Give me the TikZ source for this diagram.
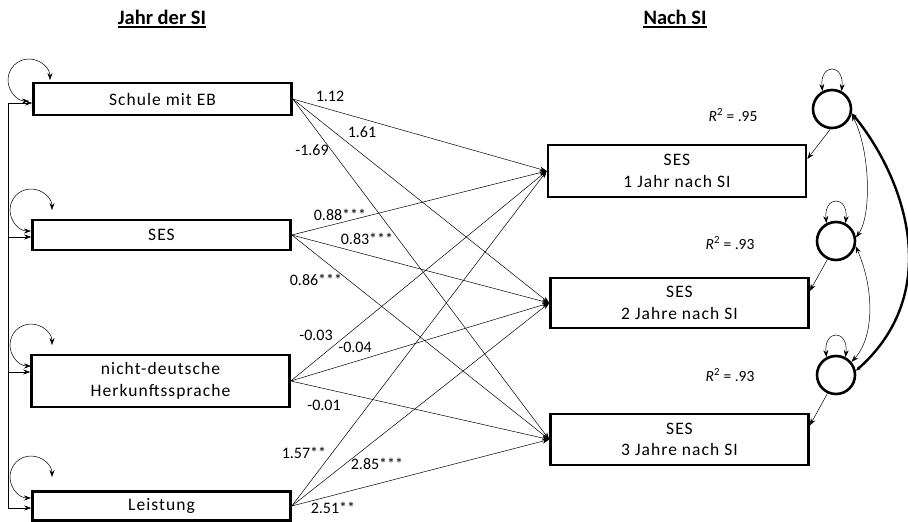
\documentclass[tikz,border=0pt]{standalone}
\usepackage{fontspec}
\setmainfont{Carlito}
\newfontfamily\boxfont{Carlito}[LetterSpace=6]
\usetikzlibrary{arrows.meta}
\tikzset{
  lbox/.style={draw, line width=2.6pt, minimum width=258pt, inner sep=0pt, align=center, font=\boxfont\fontsize{17.5}{21.5}\selectfont},
  resid/.style={draw, circle, line width=2.6pt, minimum size=38pt, inner sep=0pt},
  path/.style={line width=0.5pt, -{Stealth[length=7pt,width=5pt]}},
  dpath/.style={line width=0.5pt, {Stealth[length=7pt,width=5pt]}-{Stealth[length=7pt,width=5pt]}},
  tpath/.style={line width=2.4pt, {Stealth[length=5pt,width=4pt]}-{Stealth[length=5pt,width=4pt]}},
  lbl/.style={font=\fontsize{16}{18}\selectfont, inner sep=0pt},
  rlbl/.style={font=\fontsize{15.5}{17}\selectfont, inner sep=0pt},
  head/.style={font=\bfseries\fontsize{20.5}{23}\selectfont, inner sep=0pt}
}
\begin{document}
\begin{tikzpicture}[x=1pt,y=-1pt]
\useasboundingbox (0,0) rectangle (908,522);
% headers
\node[head] (h1) at (162,17) {Jahr der SI};
\node[head] (h2) at (675,17) {Nach SI};
\draw[line width=1.5pt] ([yshift=-3pt]h1.base west) -- ([yshift=-3pt]h1.base east);
\draw[line width=1.5pt] ([yshift=-3pt]h2.base west) -- ([yshift=-3pt]h2.base east);
% left boxes
\node[lbox, minimum height=32pt] (l1) at (162.5,99) {Schule mit EB};
\node[lbox, minimum height=30pt] (l2) at (161.5,235) {SES};
\node[lbox, minimum height=52pt] (l3) at (160.5,381) {nicht-deutsche\\Herkunftssprache};
\node[lbox, minimum height=29pt] (l4) at (161.5,506) {Leistung};
% right boxes
\node[lbox, minimum height=52pt] (r1) at (677,171) {SES\\1 Jahr nach SI};
\node[lbox, minimum height=50pt] (r2) at (679.5,303) {SES\\2 Jahre nach SI};
\node[lbox, minimum height=51pt] (r3) at (679.5,439.5) {SES\\3 Jahre nach SI};
% residuals
\node[resid] (c1) at (832,109) {};
\node[resid] (c2) at (836,241) {};
\node[resid] (c3) at (836,375) {};
% left vertical connector
\coordinate (v1) at (8,103);
\coordinate (v2) at (8,237);
\coordinate (v3) at (8,372);
\coordinate (v4) at (8,508);
\draw[line width=0.5pt] (v1) -- (v4);
\draw[path] (v1) -- (v1 -| l1.west);
\draw[path] (v2) -- (v2 -| l2.west);
\draw[path] (v3) -- (v3 -| l3.west);
\draw[path] (v4) -- (v4 -| l4.west);
% self loops on left boxes
\draw[dpath] (50,80) arc (0:-270:21);
\draw[dpath] (52,210) arc (0:-270:21);
\draw[dpath] (52,345) arc (0:-270:21);
\draw[dpath] (52,477) arc (0:-270:21);
% regression paths
\foreach \s in {l1,l2,l3,l4}{
  \foreach \t in {r1,r2,r3}{
    \draw[path] (\s.east) -- (\t.west);
  }
}
% labels
\node[lbl] at (330,96) {1.12};
\node[lbl] at (362,132) {1.61};
\node[lbl] at (312,150) {-1.69};
\node[lbl] at (340,215) {0.88***};
\node[lbl] at (367,239) {0.83***};
\node[lbl] at (316,280) {0.86***};
\node[lbl] at (316,335) {-0.03};
\node[lbl] at (355,347) {-0.04};
\node[lbl] at (324,405) {-0.01};
\node[lbl] at (304,453) {1.57**};
\node[lbl] at (377,464) {2.85***};
\node[lbl] at (333,508) {2.51**};
% R2 labels
\node[rlbl] at (733,115) {\textit{R}\textsuperscript{2} = .95};
\node[rlbl] at (730,243) {\textit{R}\textsuperscript{2} = .93};
\node[rlbl] at (730,375) {\textit{R}\textsuperscript{2} = .93};
% residual paths
\draw[path] (c1.265) -- ([yshift=12pt]r1.east);
\draw[path] (c2.245) -- ([yshift=12pt]r2.east);
\draw[path] (c3.245) -- ([yshift=14pt]r3.east);
% residual self loops
\draw[dpath] (c1.118) .. controls +(-3,-28) and +(3,-28) .. (c1.62);
\draw[dpath] (c2.118) .. controls +(-3,-28) and +(3,-28) .. (c2.62);
\draw[dpath] (c3.118) .. controls +(-3,-28) and +(3,-28) .. (c3.62);
% covariances
\draw[dpath] (c1.-15) .. controls (870,150) and (872,215) .. (c2.10);
\draw[dpath] (c2.-15) .. controls (873,285) and (876,335) .. (c3.40);
\draw[tpath] (c1.-12) .. controls (905,178) and (945,292) .. (c3.12);
\end{tikzpicture}
\end{document}
